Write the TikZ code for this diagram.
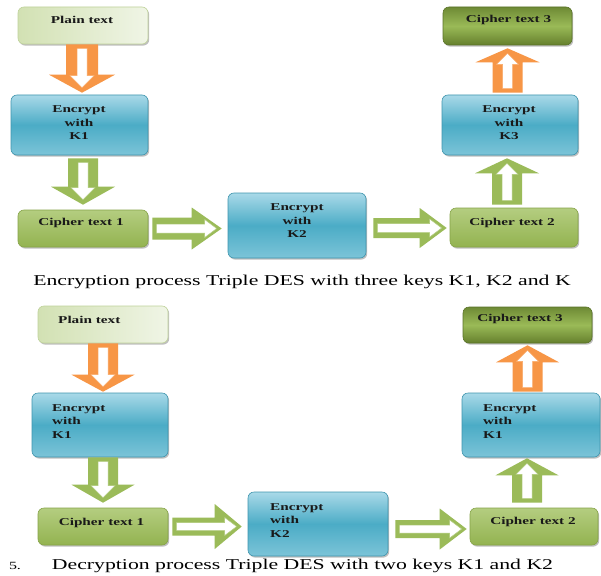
\documentclass[tikz,border=0pt]{standalone}
\usepackage{fontspec}
\setmainfont{Liberation Serif}[FakeStretch=1.45]
\usetikzlibrary{calc,shadows}
\definecolor{orangeA}{HTML}{F79646}
\definecolor{greenA}{HTML}{9BBB59}
\definecolor{blueTop}{HTML}{A9D9E8}
\definecolor{blueMid}{HTML}{4BACC6}
\definecolor{blueBot}{HTML}{7CC4D8}
\definecolor{blueEdge}{HTML}{3F95AE}
\definecolor{lgLeft}{HTML}{D2E1B3}
\definecolor{lgRight}{HTML}{F0F5E6}
\definecolor{lgEdge}{HTML}{BFD29A}
\definecolor{mgTop}{HTML}{B4CD80}
\definecolor{mgBot}{HTML}{93B350}
\definecolor{mgEdge}{HTML}{86A448}
\definecolor{dgTop}{HTML}{6E8A35}
\definecolor{dgMid}{HTML}{9ABA57}
\definecolor{dgBot}{HTML}{65802D}
\definecolor{dgEdge}{HTML}{5A7328}
\tikzset{
  boxbase/.style={rectangle, rounded corners=6pt, inner sep=0pt, line width=0.6pt,
    drop shadow={shadow xshift=1.2pt, shadow yshift=-1.6pt, fill=black!55, opacity=0.45}},
  plainbox/.style={boxbase, draw=lgEdge, left color=lgLeft, right color=lgRight},
  encbox/.style={boxbase, draw=blueEdge, top color=blueTop, bottom color=blueBot, middle color=blueMid},
  cipherbox/.style={boxbase, draw=mgEdge, top color=mgTop, bottom color=mgBot},
  darkbox/.style={boxbase, draw=dgEdge, top color=dgTop, bottom color=dgBot, middle color=dgMid},
  boxtext/.style={inner sep=0pt, font=\bfseries\fontsize{10.5}{13.5}\selectfont, text=black!90},
  captext/.style={inner sep=0pt, font=\fontsize{15}{18}\selectfont, text=black},
}
% #1 from, #2 to, #3 colour, #4 half shaft, #5 half head, #6 head length,
% #7 inner half shaft, #8 inner half head, #9 inner head length
\newcommand\blockarr[9]{%
  \coordinate (bh) at ($(#2)!#6!(#1)$);
  \fill[#3] ($(#1)!#4!90:(#2)$) -- ($(bh)!#4!90:(#2)$) -- ($(bh)!#5!90:(#2)$) -- (#2)
    -- ($(bh)!#5!-90:(#2)$) -- ($(bh)!#4!-90:(#2)$) -- ($(#1)!#4!-90:(#2)$) -- cycle;
  \coordinate (is) at ($(#1)!4pt!(#2)$);
  \coordinate (it) at ($(#2)!5pt!(#1)$);
  \coordinate (ih) at ($(it)!#9!(is)$);
  \filldraw[fill=white, draw=#3!80!white, line width=0.5pt]
    ($(is)!#7!90:(it)$) -- ($(ih)!#7!90:(it)$) -- ($(ih)!#8!90:(it)$) -- (it)
    -- ($(ih)!#8!-90:(it)$) -- ($(ih)!#7!-90:(it)$) -- ($(is)!#7!-90:(it)$) -- cycle;
}
\begin{document}
\begin{tikzpicture}[x=1pt,y=-1pt]
\useasboundingbox (0,0) rectangle (601,575);
\fill[white] (0,0) rectangle (601,575);

% ---------- Encryption ----------
\node[plainbox, minimum width=130pt, minimum height=37pt] (pt1) at (83,25.5) {};
\node[encbox, minimum width=137pt, minimum height=60pt] (e1) at (79.5,125) {};
\node[cipherbox, minimum width=130pt, minimum height=37pt] (c1) at (83,228.5) {};
\node[encbox, minimum width=138pt, minimum height=65pt] (e2) at (297,225.5) {};
\node[cipherbox, minimum width=128pt, minimum height=39pt] (c2) at (514,227.5) {};
\node[encbox, minimum width=136pt, minimum height=60pt] (e3) at (510,125) {};
\node[darkbox, minimum width=129pt, minimum height=38pt] (c3) at (507.5,26) {};

\node[boxtext] (pt1t) at (82,20) {Plain text};
\node[boxtext, align=center] (e1t) at (79,123) {Encrypt\\with\\K1};
\node[boxtext] (c1t) at (81,223) {Cipher text 1};
\node[boxtext, align=center] (e2t) at (297,221) {Encrypt\\with\\K2};
\node[boxtext] (c2t) at (512,223) {Cipher text 2};
\node[boxtext, align=center] (e3t) at (509,123) {Encrypt\\with\\K3};
\node[boxtext] (c3t) at (508.5,20) {Cipher text 3};

\coordinate (a1s) at ($(pt1.south)+(-1,0)$);
\coordinate (a1e) at ($(a1s |- e1.north)+(0,-2)$);
\blockarr{a1s}{a1e}{orangeA}{16pt}{33pt}{18pt}{5pt}{12pt}{12pt}
\coordinate (a2s) at ($(c1.north |- e1.south)+(0,3)$);
\coordinate (a2e) at ($(c1.north)+(0,-5)$);
\blockarr{a2s}{a2e}{greenA}{15pt}{32pt}{18pt}{5pt}{12pt}{12pt}
\coordinate (a3s) at ($(c1.east)+(4,0)$);
\coordinate (a3e) at ($(c1.east -| e2.west)+(-6,0)$);
\blockarr{a3s}{a3e}{greenA}{11pt}{21pt}{30pt}{4.5pt}{9pt}{12pt}
\coordinate (a4s) at ($(e2.east |- c2.west)+(7,0.5)$);
\coordinate (a4e) at ($(c2.west)+(-3,0.5)$);
\blockarr{a4s}{a4e}{greenA}{10pt}{20pt}{27pt}{4.5pt}{9pt}{12pt}
\coordinate (a5s) at ($(c2.north)+(-7,-3)$);
\coordinate (a5e) at ($(c2.north |- e3.south)+(-7,3)$);
\blockarr{a5s}{a5e}{greenA}{15pt}{32pt}{15pt}{5pt}{11pt}{11pt}
\coordinate (a6s) at ($(c3.south |- e3.north)+(0,-2)$);
\coordinate (a6e) at ($(c3.south)+(0,3)$);
\blockarr{a6s}{a6e}{orangeA}{15pt}{32pt}{14pt}{5pt}{11pt}{11pt}

\node[captext] (cap1) at (302,282) {Encryption process Triple DES with three keys K1, K2 and K};

% ---------- Decryption ----------
\node[plainbox, minimum width=130pt, minimum height=37pt] (pt2) at (103,324.5) {};
\node[encbox, minimum width=136pt, minimum height=64pt] (e4) at (100,425) {};
\node[cipherbox, minimum width=130pt, minimum height=37pt] (c4) at (103,526.5) {};
\node[encbox, minimum width=140pt, minimum height=64pt] (e5) at (318,524) {};
\node[cipherbox, minimum width=128pt, minimum height=37pt] (c5) at (534,526.5) {};
\node[encbox, minimum width=138pt, minimum height=64pt] (e6) at (531,425) {};
\node[darkbox, minimum width=129pt, minimum height=36pt] (c6) at (527.5,325) {};

\node[boxtext, anchor=west] (pt2t) at (58,320) {Plain text};
\node[boxtext, align=left, anchor=west] (e4t) at (52,421.5) {Encrypt\\with\\K1};
\node[boxtext] (c4t) at (101.5,522.5) {Cipher text 1};
\node[boxtext, align=left, anchor=west] (e5t) at (270,520.5) {Encrypt\\with\\K2};
\node[boxtext] (c5t) at (533,522) {Cipher text 2};
\node[boxtext, align=left, anchor=west] (e6t) at (483,421.5) {Encrypt\\with\\K1};
\node[boxtext] (c6t) at (520,319) {Cipher text 3};

\coordinate (b1s) at (pt2.south);
\coordinate (b1e) at ($(pt2.south |- e4.north)+(0,-1)$);
\blockarr{b1s}{b1e}{orangeA}{15pt}{31.5pt}{17pt}{5pt}{12pt}{12pt}
\coordinate (b2s) at (c4.north |- e4.south);
\coordinate (b2e) at ($(c4.north)+(0,-5)$);
\blockarr{b2s}{b2e}{greenA}{15pt}{31.5pt}{18pt}{5pt}{12pt}{12pt}
\coordinate (b3s) at ($(c4.east)+(4,0)$);
\coordinate (b3e) at ($(c4.east -| e5.west)+(-6,0)$);
\blockarr{b3s}{b3e}{greenA}{9pt}{22.5pt}{27pt}{4pt}{9pt}{12pt}
\coordinate (b4s) at ($(e5.east |- c5.west)+(7,2.5)$);
\coordinate (b4e) at ($(c5.west)+(-3,2.5)$);
\blockarr{b4s}{b4e}{greenA}{9pt}{20.5pt}{27pt}{4pt}{9pt}{12pt}
\coordinate (b5s) at ($(c5.north)+(-7,-5)$);
\coordinate (b5e) at ($(c5.north |- e6.south)+(-7,1)$);
\blockarr{b5s}{b5e}{greenA}{15pt}{31.5pt}{17pt}{5pt}{11pt}{11pt}
\coordinate (b6s) at ($(c6.south |- e6.north)+(0,-1)$);
\coordinate (b6e) at ($(c6.south)+(0,2)$);
\blockarr{b6s}{b6e}{orangeA}{15pt}{31.5pt}{17pt}{5pt}{11pt}{11pt}

\node[captext, font=\fontsize{11}{13}\selectfont] (num) at (15,566) {5.};
\node[captext] (cap2) at (302.5,566) {Decryption process Triple DES with two keys K1 and K2};
\end{tikzpicture}
\end{document}
